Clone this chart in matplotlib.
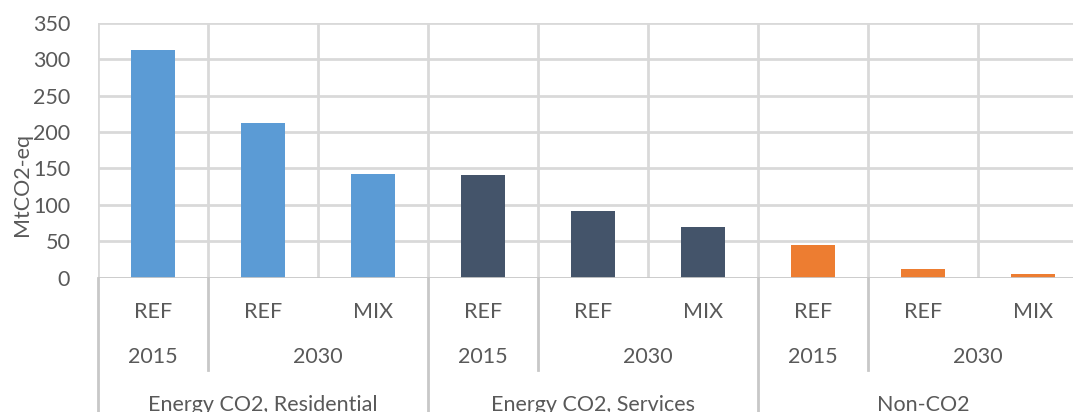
import matplotlib.pyplot as plt
import numpy as np

plt.rcParams["font.family"] = ["Lato", "DejaVu Sans"]

# data
groups = ["Energy CO2, Residential", "Energy CO2, Services", "Non-CO2"]
years = ["2015", "2030", "2030"]
scenarios = ["REF", "REF", "MIX"]
residential = [313, 212, 143]
services = [141, 91, 69]
non_co2 = [45, 12, 5]
colors = ["#5B9BD5", "#44546A", "#ED7D31"]
yticks = [0, 50, 100, 150, 200, 250, 300, 350]

txt = "#595959"
grid = "#d9d9d9"
fs = 15.5

fig = plt.figure(figsize=(10.73, 4.12), dpi=100)
ax = fig.add_axes([98/1073, 1 - 277.7/412, 990/1073, 255/412])

values = [residential, services, non_co2]
x0 = 0
for g, vals in enumerate(values):
    xs = np.arange(x0, x0 + len(vals))
    ax.bar(xs, vals, width=0.4, color=colors[g], zorder=3)
    x0 += len(vals)
n = x0

ax.set_xlim(-0.5, n - 0.5)
ax.set_ylim(0, 350)
for s in ax.spines.values():
    s.set_visible(False)
ax.set_xticks([])
ax.set_yticks(yticks)
ax.set_yticklabels([str(v) for v in yticks])
ax.tick_params(axis="y", length=0, pad=20, labelsize=fs, labelcolor=txt)

for v in yticks[1:]:
    ax.axhline(v, color=grid, lw=2, zorder=1)
for b in np.arange(-0.5, n, 1.0):
    ax.axvline(b, color=grid, lw=2, zorder=1)
ax.axhline(0, color="#c8c8c8", lw=2, zorder=4)

# multi-level category axis
tr = ax.get_xaxis_transform()
lc = "#c8c8c8"
row1, row2, base3 = -0.133, -0.311, -0.523
x0 = 0
for g, vals in enumerate(values):
    for i in range(len(vals)):
        ax.text(x0 + i, row1, scenarios[i], transform=tr, ha="center", va="center",
                fontsize=fs, color=txt)
    # year labels: 2015 single, 2030 spans two
    ax.text(x0, row2, years[0], transform=tr, ha="center", va="center", fontsize=fs, color=txt)
    ax.text(x0 + 1.5, row2, years[1], transform=tr, ha="center", va="center", fontsize=fs, color=txt)
    ax.plot([x0 + 0.5, x0 + 0.5], [0, -0.362], transform=tr, color=lc, lw=2, clip_on=False)
    ax.text(x0 + 1, base3, groups[g], transform=tr, ha="center", va="baseline", fontsize=fs, color=txt)
    ax.plot([x0 - 0.5, x0 - 0.5], [0, -0.7], transform=tr, color=lc, lw=2, clip_on=False)
    x0 += len(vals)

fig.text(22/1073, 1 - 185/412, "MtCO2-eq", rotation=90, ha="center", va="center",
         fontsize=fs, color=txt)

fig.savefig("out.png", dpi=100)
